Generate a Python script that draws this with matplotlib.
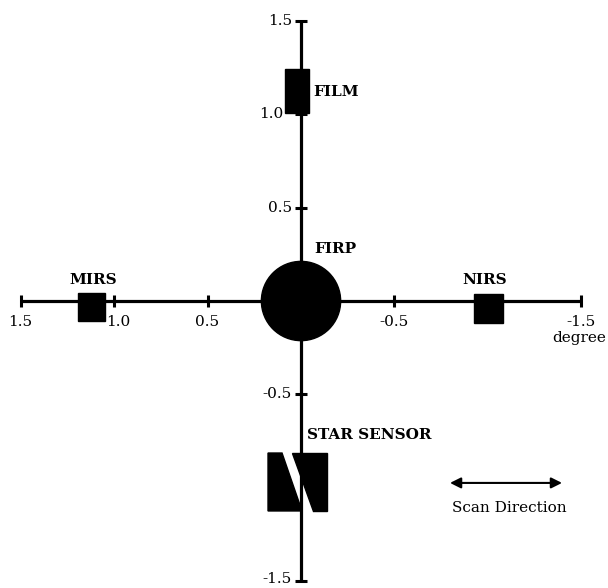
import matplotlib.pyplot as plt
from matplotlib.patches import Circle, Rectangle, Polygon

# Field-of-view layout of the instruments (degrees)
ticks = [1.5, 1.0, 0.5, -0.5, -1.5]
tick_labels = ['1.5', '1.0', '0.5', '-0.5', '-1.5']
ytick_labels = ['1.5', '1.0', '0.5', '-0.5', '-1.5']

firp_radius = 0.212

# rectangular instruments: name, centre x, centre y, width, height
rect_names = ['FILM', 'MIRS', 'NIRS']
rect_x = [0.021, 1.12, -1.003]
rect_y = [1.123, -0.032, -0.04]
rect_w = [0.128, 0.145, 0.155]
rect_h = [0.235, 0.15, 0.155]

star_x, star_y = 0.019, -0.968
star_w, star_h = 0.315, 0.31

plt.rcParams['font.family'] = ['DejaVu Serif']

fig = plt.figure(figsize=(6.08, 5.88), dpi=100)
ax = fig.add_axes([0, 0, 1, 1])
ax.set_xlim(1.61, -1.642)
ax.set_ylim(-1.535, 1.61)
ax.axis('off')

lw = 2.3
ax.plot([1.5, -1.5], [0, 0], color='black', lw=lw, solid_capstyle='butt', zorder=1)
ax.plot([0, 0], [1.5, -1.5], color='black', lw=lw, solid_capstyle='butt', zorder=1)

# tick marks
ax.plot(ticks, [0] * len(ticks), ls='none', marker='|', ms=9, mew=2.2, color='black')
ax.plot([0] * len(ticks), ticks, ls='none', marker='_', ms=8, mew=2.2, color='black')

fs = 11
for t, lab in zip(ticks, tick_labels):
    dx = -0.02 if lab == '1.0' else 0
    ax.text(t + dx, -0.11, lab, ha='center', va='center', fontsize=fs)
for t, lab in zip(ticks, ytick_labels):
    dy = 0.012 if t < -1 else 0
    # the 1.0 label sits left of the FILM box
    xl = 0.096 if lab == '1.0' else 0.048
    ax.text(xl, t + dy, lab, ha='right', va='center', fontsize=fs)
ax.text(-1.345, -0.2, 'degree', ha='left', va='center', fontsize=fs)

# FIRP
ax.add_patch(Circle((0, 0), firp_radius, color='black', zorder=3))

for name, cx, cy, w, h in zip(rect_names, rect_x, rect_y, rect_w, rect_h):
    ax.add_patch(Rectangle((cx - w / 2, cy - h / 2), w, h, color='black', zorder=3))

# star sensor: square cut by a diagonal slit
x0, x1 = star_x + star_w / 2, star_x - star_w / 2
y0, y1 = star_y + star_h / 2, star_y - star_h / 2
left = [(x0, y0), (x0 - 0.075, y0), (x0 - 0.182, y1), (x0, y1)]
right = [(x0 - 0.128, y0), (x1, y0), (x1, y1), (x0 - 0.240, y1)]
ax.add_patch(Polygon(left, closed=True, color='black', zorder=3))
ax.add_patch(Polygon(right, closed=True, color='black', zorder=3))

bold = dict(fontsize=11, fontweight='bold')
ax.text(-0.064, 1.12, 'FILM', ha='left', va='center', **bold)
ax.text(-0.07, 0.28, 'FIRP', ha='left', va='center', **bold)
ax.text(1.11, 0.11, 'MIRS', ha='center', va='center', **bold)
ax.text(-0.984, 0.11, 'NIRS', ha='center', va='center', **bold)
ax.text(-0.032, -0.714, 'STAR SENSOR', ha='left', va='center', **bold)

# scan direction
ax.annotate('', xy=(-1.396, -0.973), xytext=(-0.797, -0.973),
            arrowprops=dict(arrowstyle='<|-|>', color='black', lw=1.5,
                            mutation_scale=16, shrinkA=0, shrinkB=0))
ax.text(-1.112, -1.107, 'Scan Direction', ha='center', va='center', fontsize=11)

fig.savefig('out.png', dpi=100)
